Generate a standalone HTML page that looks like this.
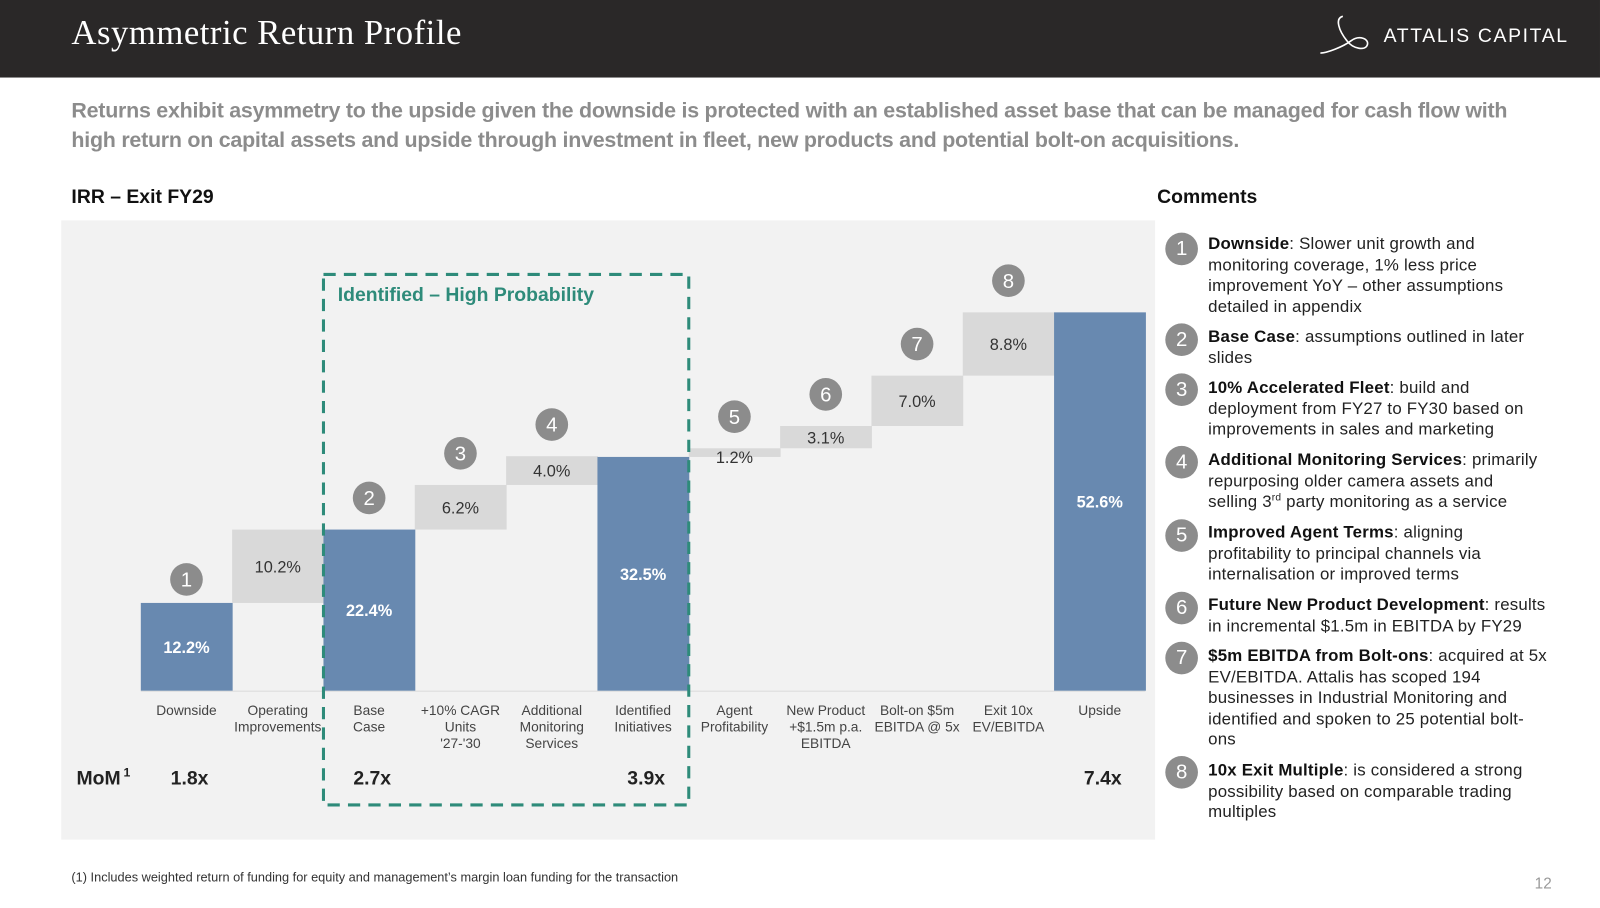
<!DOCTYPE html>
<html><head><meta charset="utf-8">
<style>
html,body{margin:0;padding:0;background:#fff;width:1600px;height:908px;overflow:hidden}
#c{position:absolute;left:0;top:0;width:1568px;height:890px;transform:scale(1.0204,1.0202);transform-origin:0 0;font-family:"Liberation Sans",sans-serif}
.abs{position:absolute}
.cm{position:absolute;left:1184px;white-space:nowrap;font-size:16.5px;line-height:20.5px;color:#222;letter-spacing:0.2px}
.cm b{color:#111}
.cc{position:absolute;left:1142px;width:32px;height:32px;border-radius:50%;background:#8c8c8c;color:#fff;font-size:20px;line-height:32px;text-align:center}
</style></head><body>
<div id="c">
<div class="abs" style="left:0;top:0;width:1568px;height:76px;background:#2a2828"></div>
<div class="abs" style="left:70px;top:14px;color:#fff;font-family:'Liberation Serif',serif;font-size:34px;letter-spacing:0.5px">Asymmetric Return Profile</div>
<svg class="abs" style="left:1290px;top:14px" width="56" height="40" viewBox="0 0 56 40"><path d="M26 2 C18 4 22 16 30 26 C36 34 48 36 50 30 C52 24 42 20 34 26 C26 32 10 38 4 38" stroke="#fff" stroke-width="1.6" fill="none"/></svg>
<div class="abs" style="left:1356px;top:25px;color:#fff;font-size:19px;letter-spacing:1.6px">ATTALIS CAPITAL</div>
<div class="abs" style="left:70px;top:94px;white-space:nowrap;color:#8c8c8c;font-weight:bold;font-size:21px;line-height:29px;letter-spacing:-0.25px">Returns exhibit asymmetry to the upside given the downside is protected with an established asset base that can be managed for cash flow with<br>high return on capital assets and upside through investment in fleet, new products and potential bolt-on acquisitions.</div>
<div class="abs" style="left:70px;top:183px;font-weight:bold;font-size:19px;color:#111">IRR – Exit FY29</div>
<div class="abs" style="left:1134px;top:183px;font-weight:bold;font-size:19px;color:#111">Comments</div>
<svg id="chart" class="abs" style="left:0;top:0" width="1140" height="830"></svg>

<div class="cc" style="top:228px">1</div>
<div class="cm" style="top:229px"><b>Downside</b>: Slower unit growth and<br>monitoring coverage, 1% less price<br>improvement YoY – other assumptions<br>detailed in appendix</div>
<div class="cc" style="top:317px">2</div>
<div class="cm" style="top:320px"><b>Base Case</b>: assumptions outlined in later<br>slides</div>
<div class="cc" style="top:366px">3</div>
<div class="cm" style="top:370px"><b>10% Accelerated Fleet</b>: build and<br>deployment from FY27 to FY30 based on<br>improvements in sales and marketing</div>
<div class="cc" style="top:437px">4</div>
<div class="cm" style="top:441px"><b>Additional Monitoring Services</b>: primarily<br>repurposing older camera assets and<br>selling 3<sup style="font-size:10px;line-height:0">rd</sup> party monitoring as a service</div>
<div class="cc" style="top:509px">5</div>
<div class="cm" style="top:512px"><b>Improved Agent Terms</b>: aligning<br>profitability to principal channels via<br>internalisation or improved terms</div>
<div class="cc" style="top:580px">6</div>
<div class="cm" style="top:583px"><b>Future New Product Development</b>: results<br>in incremental $1.5m in EBITDA by FY29</div>
<div class="cc" style="top:629px">7</div>
<div class="cm" style="top:633px"><b>$5m EBITDA from Bolt-ons</b>: acquired at 5x<br>EV/EBITDA. Attalis has scoped 194<br>businesses in Industrial Monitoring and<br>identified and spoken to 25 potential bolt-<br>ons</div>
<div class="cc" style="top:741px">8</div>
<div class="cm" style="top:745px"><b>10x Exit Multiple</b>: is considered a strong<br>possibility based on comparable trading<br>multiples</div>

<div class="abs" style="left:70px;top:853px;font-size:12.5px;color:#333">(1) Includes weighted return of funding for equity and management’s margin loan funding for the transaction</div>
<div class="abs" style="left:1504px;top:858px;font-size:15px;color:#999">12</div>
</div>
<script>
const categories=[["Downside"],["Operating","Improvements"],["Base","Case"],["+10% CAGR","Units","'27-'30"],["Additional","Monitoring","Services"],["Identified","Initiatives"],["Agent","Profitability"],["New Product","+$1.5m p.a.","EBITDA"],["Bolt-on $5m","EBITDA @ 5x"],["Exit 10x","EV/EBITDA"],["Upside"]];
const values=[12.2,10.2,22.4,6.2,4.0,32.5,1.2,3.1,7.0,8.8,52.6];
const isTotal=[true,false,true,false,false,true,false,false,false,false,true];
const markers=["1","","2","3","4","","5","6","7","8",""];
const momLabels=["1.8x","","2.7x","","","3.9x","","","","","7.4x"];

const NS="http://www.w3.org/2000/svg";
const svg=document.getElementById('chart');
const X0=138,BW=89.5,BASE=677,PX=7.05;
const xPos=i=>X0+i*BW;
const yPos=v=>BASE-v*PX;
function mk(tag,attrs,txt){const e=document.createElementNS(NS,tag);for(const k in attrs)e.setAttribute(k,attrs[k]);if(txt!==undefined)e.textContent=txt;svg.appendChild(e);return e;}

const panel=mk('rect',{x:60,y:216,width:1072,height:607,fill:'#f2f2f2'});


const axis=mk('line',{x1:X0,x2:X0+11*BW,y1:BASE+0.5,y2:BASE+0.5,stroke:'#dcdcdc','stroke-width':1});



let run=0;
values.forEach((v,i)=>{
  let lo,hi;
  if(isTotal[i]){lo=0;hi=v;run=v;}else{lo=run;hi=run+v;run=hi;}
  const x=xPos(i),yt=yPos(hi),yb=yPos(lo);
  const r=mk('rect',{x:x,y:yt,width:BW+0.5,height:yb-yt,fill:isTotal[i]?'#6889b0':'#d9d9d9'});
  
  
  const cx=x+BW/2;
  let ly=(yt+yb)/2+6; if(yb-yt<12) ly=yb+6;
  const t=mk('text',{x:cx,y:ly,'text-anchor':'middle','font-size':16,'font-weight':isTotal[i]?'bold':'normal',fill:isTotal[i]?'#fff':'#333'},v.toFixed(1)+'%');
  
  
  if(markers[i]){
    const off=i===0?23:31;
    const c=mk('circle',{cx:cx,cy:yt-off,r:16,fill:'#8c8c8c'});
    
    
    const mt=mk('text',{x:cx,y:yt-off+7,'text-anchor':'middle','font-size':20,fill:'#fff'},markers[i]);
    
    
  }
  categories[i].forEach((ln,j)=>{
    const ct=mk('text',{x:cx,y:BASE+24+j*16,'text-anchor':'middle','font-size':13.5,fill:'#444'},ln);
    
    
  });
  if(momLabels[i]){
    const m=mk('text',{x:cx+3,y:769,'text-anchor':'middle','font-size':19,'font-weight':'bold',fill:'#222'},momLabels[i]);
    
    
  }
});
const mom=mk('text',{x:75,y:769,'font-size':19,'font-weight':'bold',fill:'#222'},'MoM');


const sup=mk('text',{x:121,y:761,'font-size':12,'font-weight':'bold',fill:'#222'},'1');



const box=mk('rect',{x:317,y:269,width:358,height:520,fill:'none',stroke:'#2e8b7a','stroke-width':3,'stroke-dasharray':'12 8'});


const bt=mk('text',{x:331,y:295,'font-size':19,'font-weight':'bold',fill:'#2e8b7a'},'Identified – High Probability');


</script>
</body></html>
